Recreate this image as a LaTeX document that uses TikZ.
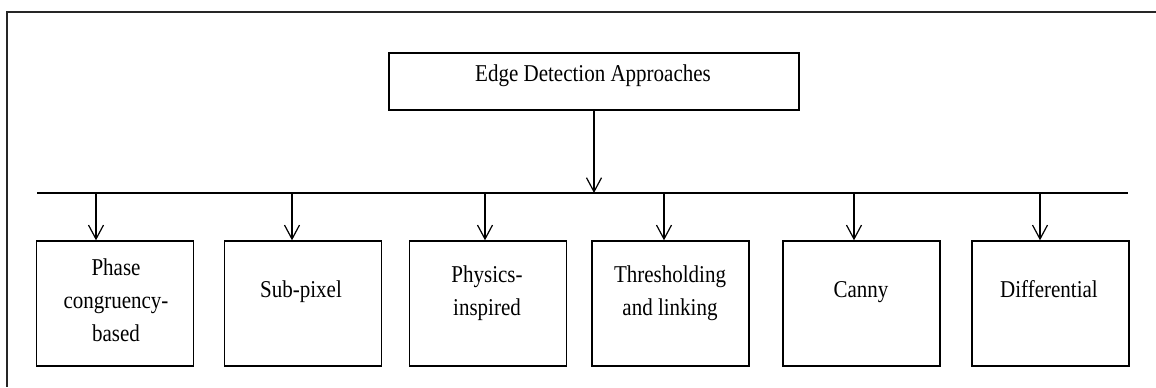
\documentclass[tikz,border=0pt]{standalone}
\usepackage{fontspec}
\setmainfont{Liberation Serif}
\usetikzlibrary{arrows.meta}
% labels are set in a slightly tall, narrow form
\newcommand\tallcell[1]{\scalebox{1}[1.15]{\begin{tabular}{@{}c@{}}#1\end{tabular}}}
\begin{document}
\begin{tikzpicture}[x=0.5pt,y=-0.5pt,
  box/.style={draw, line width=0.7pt, minimum width=78.5pt, minimum height=62.5pt, inner sep=0pt},
  lbl/.style={font=\fontsize{10.5}{14.3}\selectfont, inner sep=0pt},
  link/.style={line width=0.6pt},
  arr/.style={line width=0.6pt, -{Straight Barb[length=7pt,width=7.5pt,line width=0.6pt]}}]
\useasboundingbox (0,0) rectangle (1156,387);
% frame along the top and left
\draw[line width=1.1pt, black!85] (1156,12) -- (7,12) -- (7,387);

% root
\node[draw, line width=0.7pt, minimum width=205pt, minimum height=28.5pt, inner sep=0pt] (top) at (594,81.5) {};
\node[lbl] (toptext) at (593,75) {\tallcell{Edge Detection Approaches}};

% distribution bus
\coordinate (busL) at (37,193);
\coordinate (busR) at (1128,193);
\draw[link] (busL) -- (busR);
\draw[arr] (top.south) -- (top.south |- busL);

% categories
\node[box] (c1) at (115,303.5) {};
\node[box] (c2) at (303,303.5) {};
\node[box] (c3) at (488,303.5) {};
\node[box] (c4) at (670.5,303.5) {};
\node[box] (c5) at (861.5,303.5) {};
\node[box] (c6) at (1050.5,303.5) {};

\node[lbl] (t1) at (116,302) {\tallcell{Phase\\congruency-\\based}};
\node[lbl] (t2) at (301,291) {\tallcell{Sub-pixel}};
\node[lbl] (t3) at (487,292) {\tallcell{Physics-\\inspired}};
\node[lbl] (t4) at (670,292) {\tallcell{Thresholding\\and linking}};
\node[lbl] (t5) at (861,291) {\tallcell{Canny}};
\node[lbl] (t6) at (1049,291) {\tallcell{Differential}};

% drops from the bus
\coordinate (d1) at (96,193);
\coordinate (d2) at (292,193);
\coordinate (d3) at (485,193);
\coordinate (d4) at (664,193);
\coordinate (d5) at (854,193);
\coordinate (d6) at (1040,193);
\foreach \i in {1,...,6}
  \draw[arr] (d\i) -- (d\i |- c\i.north);
\end{tikzpicture}
\end{document}
